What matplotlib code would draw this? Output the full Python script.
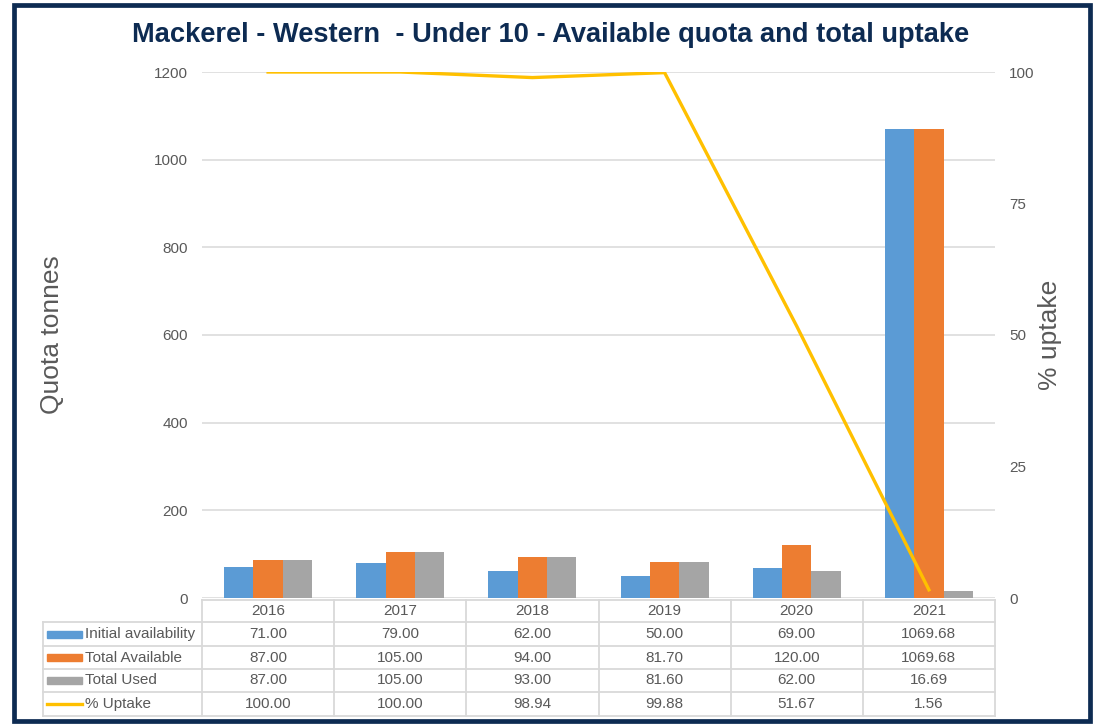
#!/usr/bin/env python3
""" mackerel quota chart """
import numpy as np
import matplotlib
matplotlib.use('Agg')
import matplotlib.pyplot as plt
from matplotlib.patches import Rectangle
from matplotlib.lines import Line2D

plt.rcParams['font.family'] = ['Liberation Sans', 'DejaVu Sans']

years = ['2016', '2017', '2018', '2019', '2020', '2021']
initial = [71.00, 79.00, 62.00, 50.00, 69.00, 1069.68]
available = [87.00, 105.00, 94.00, 81.70, 120.00, 1069.68]
used = [87.00, 105.00, 93.00, 81.60, 62.00, 16.69]
uptake = [100.00, 100.00, 98.94, 99.88, 51.67, 1.56]

series = ['Initial availability', 'Total Available', 'Total Used', '% Uptake']
colors = ['#5B9BD5', '#ED7D31', '#A5A5A5', '#FFC000']
grey = '#595959'
navy = '#0D2B52'

W, H = 1099, 724
fig = plt.figure(figsize=(W / 100, H / 100), dpi=100)

# navy frame around the whole chart
fig.patches.append(Rectangle((14 / W, 3 / H), 1076 / W, 716 / H, transform=fig.transFigure,
                             fill=False, edgecolor=navy, linewidth=3.4))

left, right, top, bottom = 202, 995, 72, 598
ax = fig.add_axes([left / W, 1 - bottom / H, (right - left) / W, (bottom - top) / H])
ax2 = ax.twinx()

x = np.arange(len(years))
bw = 0.222
ax.bar(x - bw, initial, bw, color=colors[0], zorder=3)
ax.bar(x, available, bw, color=colors[1], zorder=3)
ax.bar(x + bw, used, bw, color=colors[2], zorder=3)
ax.set_xlim(-0.5, len(years) - 0.5)
ax.set_ylim(0, 1200)
ax.set_yticks(range(0, 1201, 200))
ax.grid(axis='y', color='#D9D9D9', linewidth=1.1, zorder=0)
ax.set_xticks([])

ax2.plot(x, uptake, color=colors[3], linewidth=2.4, zorder=4)
ax2.set_ylim(0, 100)
ax2.set_yticks(range(0, 101, 25))

for a in (ax, ax2):
    for s in a.spines.values():
        s.set_visible(False)
    a.tick_params(length=0, labelsize=11, labelcolor=grey, pad=10)

fig.text(52 / W, 1 - 335 / H, 'Quota tonnes', rotation=90, ha='center', va='center',
         fontsize=19, color=grey)
fig.text(1050 / W, 1 - 335 / H, '% uptake', rotation=90, ha='center', va='center',
         fontsize=19, color=grey)
fig.text(551 / W, 1 - 35 / H, 'Mackerel - Western  - Under 10 - Available quota and total uptake',
         ha='center', va='center', fontsize=19.6, fontweight='bold', color=navy)

# data table under the plot
trans = ax.get_xaxis_transform()
ph = bottom - top
cw = (right - left) / len(years)


def px_x(p):
    return -0.5 + (p - left) / cw


def px_y(p):
    return -p / ph


lc = '#D9D9D9'
row_edges = [2, 24, 48, 71, 94, 118]
xl = px_x(43)
xr = len(years) - 0.5
ax.add_line(Line2D([-0.5, xr], [px_y(row_edges[0])] * 2, transform=trans, color=lc,
                   lw=1.3, clip_on=False))
for e in row_edges[1:]:
    ax.add_line(Line2D([xl, xr], [px_y(e)] * 2, transform=trans, color=lc, lw=1.3, clip_on=False))
for i in range(len(years) + 1):
    ax.add_line(Line2D([i - 0.5] * 2, [px_y(row_edges[0]), px_y(row_edges[-1])], transform=trans,
                       color=lc, lw=1.3, clip_on=False))
ax.add_line(Line2D([xl] * 2, [px_y(row_edges[1]), px_y(row_edges[-1])], transform=trans,
                   color=lc, lw=1.3, clip_on=False))

for i, yr in enumerate(years):
    ax.text(i, px_y(13), yr, transform=trans, ha='center', va='center', fontsize=11, color=grey)

rows = [initial, available, used, uptake]
for r, (name, vals) in enumerate(zip(series, rows)):
    yc = px_y((row_edges[r + 1] + row_edges[r + 2]) / 2)
    if r < 3:
        ax.add_patch(Rectangle((px_x(47), yc - 3.5 / ph), px_x(82) - px_x(47), 7 / ph,
                               transform=trans, color=colors[r], clip_on=False))
    else:
        ax.add_line(Line2D([px_x(47), px_x(82)], [yc, yc], transform=trans, color=colors[r],
                           lw=2.4, clip_on=False))
    ax.text(px_x(85), yc, name, transform=trans, ha='left', va='center', fontsize=11, color=grey)
    for i, v in enumerate(vals):
        ax.text(i, yc, f'{v:.2f}', transform=trans, ha='center', va='center', fontsize=11,
                color=grey)

fig.savefig('out.png', dpi=100)
